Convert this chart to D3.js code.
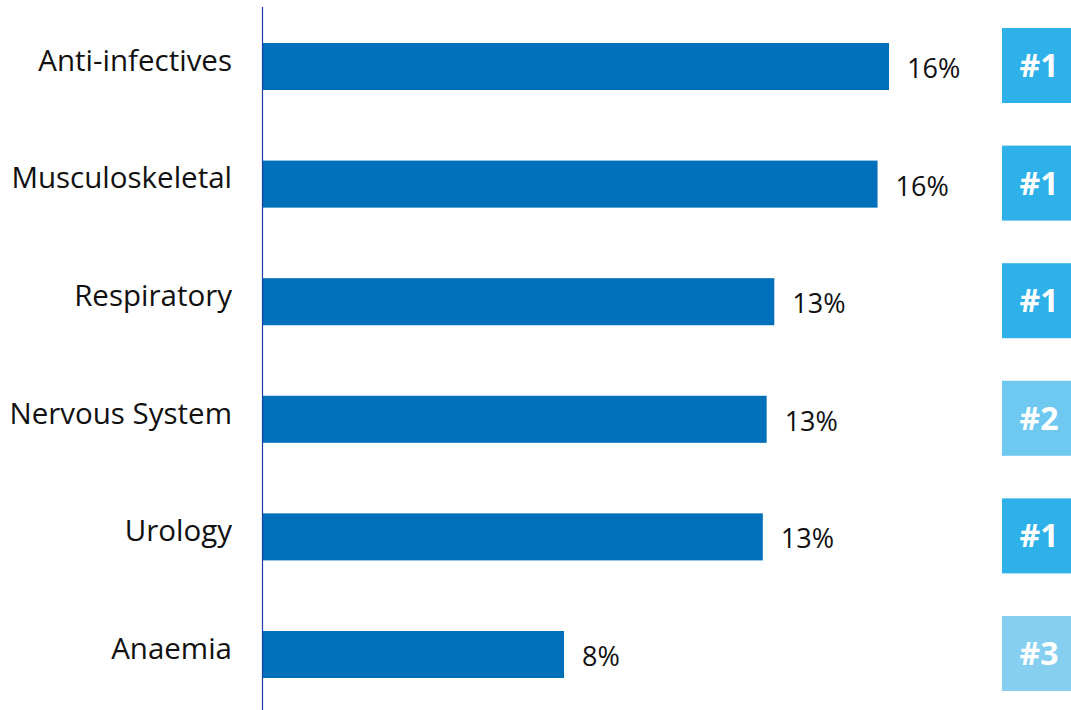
<!DOCTYPE html>
<html>
<head>
<meta charset="utf-8">
<script src="https://cdn.jsdelivr.net/npm/d3@7"></script>
<style>
  body { margin: 0; background: #fff; }
  svg { display: block; font-family: "Open Sans", sans-serif; }
</style>
</head>
<body>
<div class="chart"></div>
<script>
(function() {
  var categories = ['Anti-infectives', 'Musculoskeletal', 'Respiratory', 'Nervous System', 'Urology', 'Anaemia'];
  var shares = [16.4, 16.1, 13.4, 13.2, 13.1, 7.9];
  var valueLabels = ['16%', '16%', '13%', '13%', '13%', '8%'];
  var ranks = [1, 1, 1, 2, 1, 3];

  var width = 1071, height = 710;

  var rankColor = { 1: '#2eb0e8', 2: '#6fc8f0', 3: '#86cff1' };

  var svg = d3.select('.chart')
    .append('svg')
    .attr('width', width)
    .attr('height', height);

  var x = d3.scaleLinear().domain([0, 16.4]).range([262, 889]);

  var y = d3.scaleBand()
    .domain(categories)
    .range([43, 678])
    .paddingInner(0.6)
    .paddingOuter(0);

  // bars
  svg.selectAll('.bar').data(categories)
    .enter().append('rect')
      .attr('class', 'bar')
      .attr('x', x(0))
      .attr('y', function(d) { return y(d); })
      .attr('width', function(d, i) { return x(shares[i]) - x(0); })
      .attr('height', y.bandwidth())
      .style('fill', '#0070ba');

  // axis line
  svg.append('line')
    .attr('x1', x(0) + 0.5).attr('x2', x(0) + 0.5)
    .attr('y1', 7).attr('y2', height)
    .style('stroke', '#1f3fa6')
    .style('stroke-width', 1.2);

  // category labels
  svg.selectAll('.cat').data(categories)
    .enter().append('text')
      .attr('class', 'cat')
      .attr('x', 232)
      .attr('y', function(d) { return y(d) + y.bandwidth() / 2 - 6; })
      .attr('dy', '0.35em')
      .attr('text-anchor', 'end')
      .style('font-size', '29.5px')
      .style('fill', '#111')
      .text(function(d) { return d; });

  // value labels
  svg.selectAll('.val').data(categories)
    .enter().append('text')
      .attr('class', 'val')
      .attr('x', function(d, i) { return x(shares[i]) + 18; })
      .attr('y', function(d) { return y(d) + y.bandwidth() / 2 + 2; })
      .attr('dy', '0.35em')
      .style('font-size', '27px')
      .style('fill', '#111')
      .text(function(d, i) { return valueLabels[i]; });

  // rank badges
  var side = 75;
  var badge = svg.selectAll('.badge').data(categories)
    .enter().append('g')
      .attr('class', 'badge')
      .attr('transform', function(d) {
        return 'translate(1002,' + (y(d) + y.bandwidth() / 2 - side / 2 - 1) + ')';
      });

  badge.append('rect')
    .attr('width', side)
    .attr('height', side)
    .style('fill', function(d, i) { return rankColor[ranks[i]]; });

  badge.append('text')
    .attr('x', 37)
    .attr('y', side / 2)
    .attr('dy', '0.36em')
    .attr('text-anchor', 'middle')
    .style('font-size', '32px')
    .style('font-weight', 'bold')
    .style('fill', '#fff')
    .text(function(d, i) { return '#' + ranks[i]; });
}).call(this);
</script>
</body>
</html>
